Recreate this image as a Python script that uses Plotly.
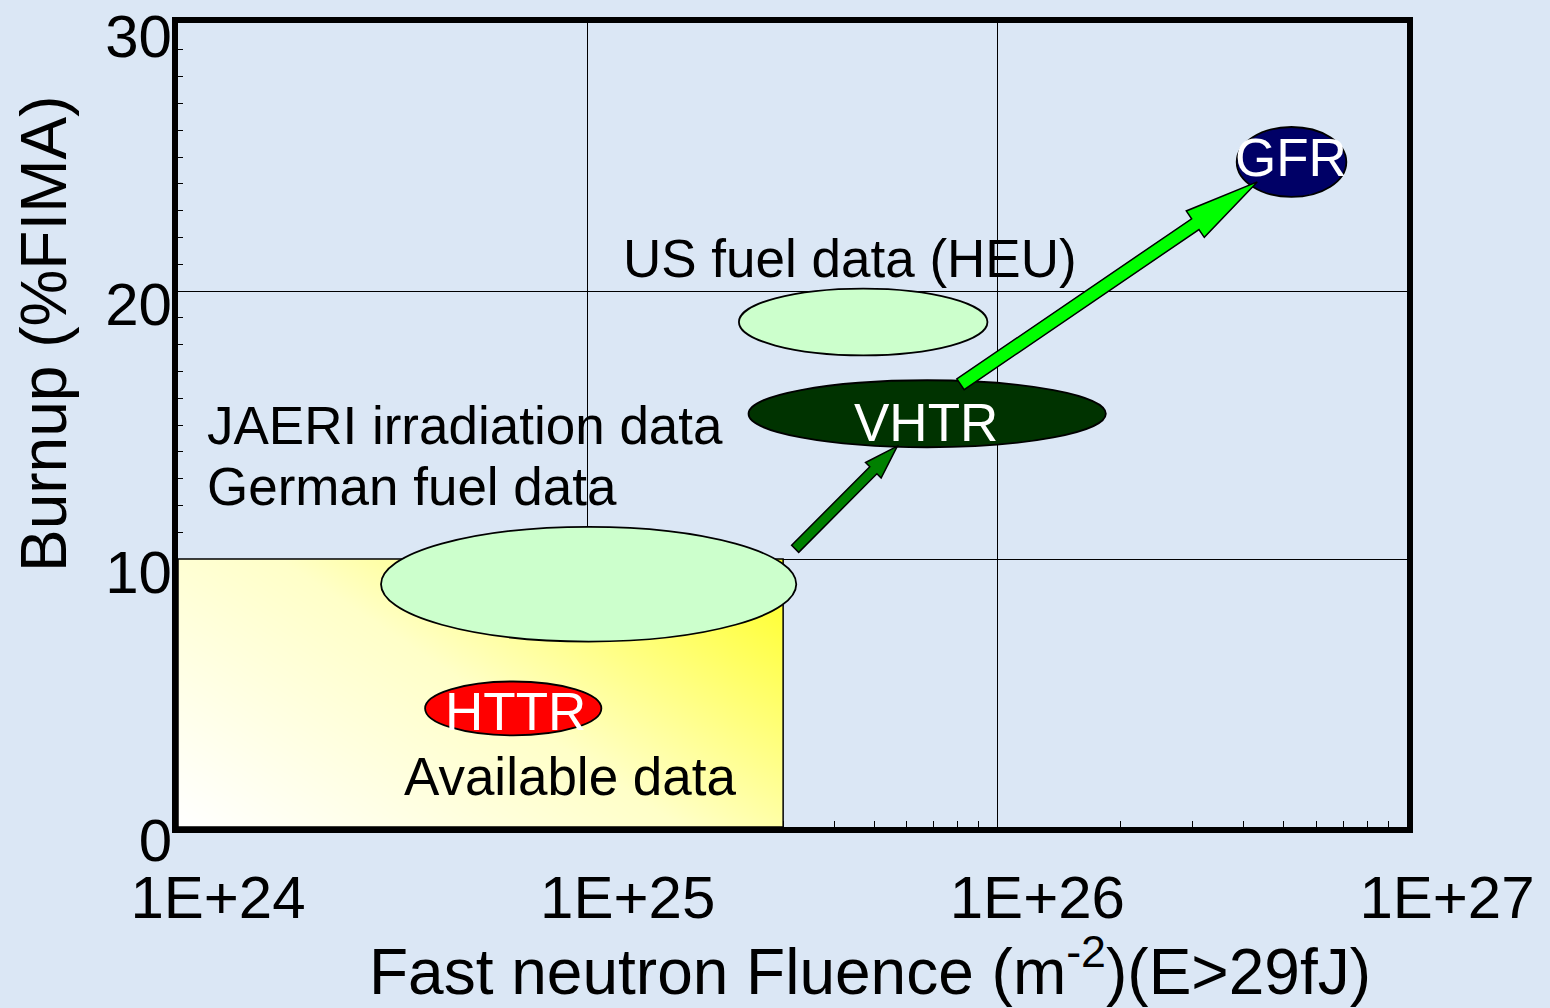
import numpy as np
import plotly.graph_objects as go

# ---------------- data ----------------
x_tickvals = [1e24, 1e25, 1e26, 1e27]
x_ticktext = ["1E+24", "1E+25", "1E+26", "1E+27"]
y_tickvals = [0, 10, 20, 30]
y_ticktext = ["0", "10", "20", "30"]

# available-data box (fluence range, burnup range)
box_x = [1e24, 3.0e25]
box_y = [0, 10]

# ellipses: name, x-range, y-range, fill colour
ell_names = ["JAERI/German", "US", "VHTR", "HTTR", "GFR"]
ell_x0 = [3.13e24, 2.34e25, 2.47e25, 4.01e24, 3.84e26]
ell_x1 = [3.23e25, 9.46e25, 1.84e26, 1.08e25, 7.11e26]
ell_y0 = [6.92, 17.6, 14.17, 3.42, 23.51]
ell_y1 = [11.2, 20.09, 16.67, 5.43, 26.12]
ell_fill = ["#ccffcc", "#ccffcc", "#003300", "#ff0000", "#000066"]

# arrows: tail -> tip (fluence, burnup)
arr_x0 = [3.21e25, 8.13e25]
arr_y0 = [10.38, 16.52]
arr_x1 = [5.70e25, 4.31e26]
arr_y1 = [14.21, 24.07]
arr_fill = ["#008000", "#00ff00"]

# labels
lbl_text = ["US fuel data (HEU)", "JAERI irradiation data", "German fuel data", "Available data"]
lbl_x = [4.38e25, 1.165e24, 1.165e24, 9.06e24]
lbl_y = [21.2, 15.0, 12.7, 1.9]
lbl_anchor = ["center", "left", "left", "center"]

in_text = ["VHTR", "HTTR", "GFR"]
in_x = [6.7e25, 6.65e24, 5.2e26]
in_y = [15.1, 4.3, 25.0]

# ---------------- layout geometry ----------------
W, H = 1550, 1008
ML, MR, MT, MB = 178, 143, 23, 181
PW = W - ML - MR
PH = H - MT - MB
XR = [24, 27]
YR = [0, 30]
PXD = PW / (XR[1] - XR[0])     # pixels per decade
PXU = PH / (YR[1] - YR[0])     # pixels per burnup unit

FONT = "Liberation Sans, Arial, sans-serif"
BG = "#dbe7f5"

fig = go.Figure()

# gradient fill of the available-data box
nx, ny = 90, 40
gx = np.logspace(np.log10(box_x[0]), np.log10(box_x[1]), nx + 1)
gy = np.linspace(box_y[0], box_y[1], ny + 1)
u = (np.arange(nx) + 0.5) / nx
v = (np.arange(ny) + 0.5) / ny
gz = (u[None, :] * 0.6 + v[:, None] * 0.4)
fig.add_trace(go.Heatmap(
    x=gx.tolist(), y=gy.tolist(), z=gz.tolist(), zmin=0, zmax=1, zsmooth="best",
    colorscale=[[0, "#ffffff"], [0.5, "#ffffc8"], [1, "#ffff20"]],
    showscale=False, hoverinfo="skip"))

shapes = []
shapes.append(dict(type="rect", xref="x", yref="y", x0=box_x[0], x1=box_x[1],
                   y0=box_y[0], y1=box_y[1], line=dict(color="black", width=1.5),
                   fillcolor="rgba(0,0,0,0)", layer="above"))
for i in range(len(ell_names)):
    shapes.append(dict(type="circle", xref="x", yref="y",
                       x0=ell_x0[i], x1=ell_x1[i], y0=ell_y0[i], y1=ell_y1[i],
                       fillcolor=ell_fill[i], line=dict(color="black", width=1.8),
                       layer="above"))


def to_px(x, y):
    return (np.log10(x) - XR[0]) * PXD, (y - YR[0]) * PXU


def to_data(px, py):
    return 10 ** (XR[0] + px / PXD), YR[0] + py / PXU


arrow_style = [dict(sw=10, hw=22, hl=34), dict(sw=13, hw=32, hl=75)]
for i in range(len(arr_x0)):
    ax0, ay0 = to_px(arr_x0[i], arr_y0[i])
    ax1, ay1 = to_px(arr_x1[i], arr_y1[i])
    d = np.array([ax1 - ax0, ay1 - ay0])
    L = np.hypot(*d)
    d = d / L
    n = np.array([-d[1], d[0]])
    st = arrow_style[i]
    p0 = np.array([ax0, ay0])
    tip = np.array([ax1, ay1])
    neck = tip - d * st["hl"]
    pts = [p0 + n * st["sw"] / 2, neck + n * st["sw"] / 2, neck + n * st["hw"] / 2,
           tip, neck - n * st["hw"] / 2, neck - n * st["sw"] / 2, p0 - n * st["sw"] / 2]
    segs = []
    for k, p in enumerate(pts):
        dx, dy = to_data(p[0], p[1])
        segs.append(("M" if k == 0 else "L") + f" {float(dx):.6e},{float(dy):.5f}")
    path = " ".join(segs) + " Z"
    shapes.append(dict(type="path", xref="x", yref="y", path=path,
                       fillcolor=arr_fill[i], line=dict(color="black", width=1.5),
                       layer="above"))

annotations = []
for t, x, y, a in zip(lbl_text, lbl_x, lbl_y, lbl_anchor):
    annotations.append(dict(text=t, x=float(np.log10(x)), y=y, xref="x", yref="y",
                            xanchor=a, yanchor="middle", showarrow=False,
                            font=dict(family=FONT, size=53, color="black")))
for t, x, y in zip(in_text, in_x, in_y):
    annotations.append(dict(text=t, x=float(np.log10(x)), y=y, xref="x", yref="y",
                            xanchor="center", yanchor="middle", showarrow=False,
                            font=dict(family=FONT, size=53, color="white")))

# axis titles
annotations.append(dict(text="Fast neutron Fluence (m<sup>-2</sup>)(E>29fJ)",
                        xref="paper", yref="paper", x=(870 - ML) / PW, y=-(967 - MT - PH) / PH,
                        xanchor="center", yanchor="middle", showarrow=False,
                        font=dict(family=FONT, size=64, color="black")))
annotations.append(dict(text="Burnup (%FIMA)", textangle=-90,
                        xref="paper", yref="paper", x=(44 - ML) / PW, y=(MT + PH - 334) / PH,
                        xanchor="center", yanchor="middle", showarrow=False,
                        font=dict(family=FONT, size=64, color="black")))

x_minor = [k * 10.0 ** e for e in range(24, 27) for k in range(2, 10)]
y_minor = [v_ for v_ in range(1, 30) if v_ % 10]

fig.update_layout(
    width=W, height=H,
    margin=dict(l=ML, r=MR, t=MT, b=MB, pad=0, autoexpand=False),
    paper_bgcolor=BG,
    plot_bgcolor="rgba(0,0,0,0)",
    showlegend=False,
    shapes=shapes,
    annotations=annotations,
    font=dict(family=FONT, color="black"),
    xaxis=dict(type="log", range=XR, tickmode="array", tickvals=x_tickvals,
               ticktext=x_ticktext, ticks="", showgrid=True, gridcolor="black",
               gridwidth=1, showline=True, linecolor="black", linewidth=6,
               mirror=True, zeroline=False, layer="below traces", automargin=False,
               tickfont=dict(family=FONT, size=60, color="black"),
               ticklabelshift=40, ticklabelstandoff=13,
               minor=dict(tickmode="array", tickvals=x_minor, ticks="inside",
                          ticklen=6, tickwidth=1, tickcolor="black", showgrid=False)),
    yaxis=dict(range=YR, tickmode="array", tickvals=y_tickvals, ticktext=y_ticktext,
               ticks="", showgrid=True, gridcolor="black", gridwidth=1,
               showline=True, linecolor="black", linewidth=6, mirror=True,
               zeroline=False, layer="below traces", automargin=False,
               tickfont=dict(family=FONT, size=60, color="black"),
               ticklabelshift=13, ticklabelstandoff=-12,
               minor=dict(tickmode="array", tickvals=y_minor, ticks="inside",
                          ticklen=5, tickwidth=1, tickcolor="black", showgrid=False)),
)

fig.write_html("out.html", config={"displayModeBar": False},
               post_script=f"document.body.style.margin='0';document.body.style.background='{BG}';")
